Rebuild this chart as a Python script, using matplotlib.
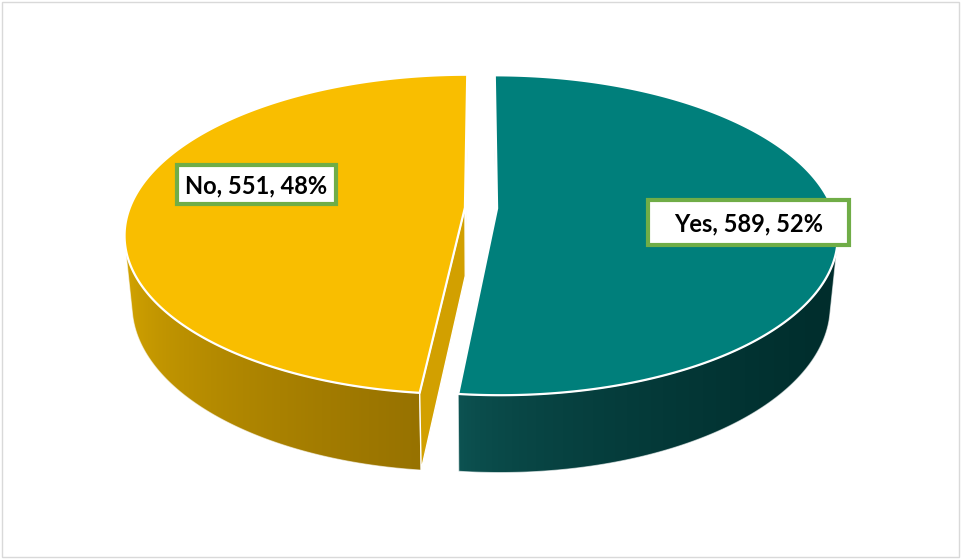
import numpy as np
import matplotlib.pyplot as plt
from matplotlib.patches import Polygon, Rectangle
from matplotlib.colors import to_rgb

# survey answers
labels = ["Yes", "No"]
counts = [589, 551]

top_colors = ["#007F7B", "#F9BE00"]
wall_colors = [("#0D5453", "#002D2C"), ("#D8A800", "#977200")]
cut_colors = ["#00625E", "#D2A000"]

W, H = 961, 559
fig = plt.figure(figsize=(W / 100, H / 100), dpi=100)
ax = fig.add_axes([0, 0, 1, 1])
ax.set_xlim(0, W)
ax.set_ylim(H, 0)
ax.axis("off")

# simple perspective camera looking down on a unit disk
PHI = np.radians(27.6)
DIST = 5.28
SCALE = 1770
CX, CY = 481, 208
THICK = 0.235
EXPLODE = 0.048
cam = np.array([0.0, -DIST * np.cos(PHI), DIST * np.sin(PHI)])


def project(u, w, z):
    s, c = np.sin(PHI), np.cos(PHI)
    depth = DIST + w * c - z * s
    return CX + SCALE * u / depth, CY - SCALE * (w * s + z * c) / depth, depth


def gradient(c0, c1, n, gamma):
    a, b = np.array(to_rgb(c0)), np.array(to_rgb(c1))
    f = np.linspace(0, 1, n)[:, None] ** gamma
    return (a + (b - a) * f)[None, :, :]


total = sum(counts)
fracs = np.array(counts) / total
starts = np.concatenate([[0], np.cumsum(fracs)[:-1]]) * 2 * np.pi
ends = starts + fracs * 2 * np.pi

walls = []   # (xy outline, slice index)
cuts = []    # (depth, xy, slice index)
tops = []

for i in range(len(counts)):
    mid = (starts[i] + ends[i]) / 2
    ou, ow = EXPLODE * np.sin(mid), EXPLODE * np.cos(mid)
    t = np.linspace(starts[i], ends[i], 361)
    u = ou + np.sin(t)
    w = ow + np.cos(t)
    xt, yt, dt = project(u, w, 0)
    xb, yb, db = project(u, w, -THICK)

    # outer wall, only the part that faces the camera
    vis = np.sin(t) * (cam[0] - u) + np.cos(t) * (cam[1] - w) > 0
    k = np.where(vis)[0]
    if len(k):
        walls.append((np.column_stack([np.concatenate([xt[k], xb[k][::-1]]),
                                       np.concatenate([yt[k], yb[k][::-1]])]), i))

    # radial cut faces
    ax_t, ay_t, ad_t = project(ou, ow, 0)
    ax_b, ay_b, ad_b = project(ou, ow, -THICK)
    for a, sign in ((starts[i], -1), (ends[i], 1)):
        n = np.array([np.sin(a + sign * np.pi / 2), np.cos(a + sign * np.pi / 2)])
        if n @ (cam[:2] - np.array([ou, ow])) <= 0:
            continue
        eu, ew = ou + np.sin(a), ow + np.cos(a)
        ex_t, ey_t, ed_t = project(eu, ew, 0)
        ex_b, ey_b, ed_b = project(eu, ew, -THICK)
        xy = [(ax_t, ay_t), (ex_t, ey_t), (ex_b, ey_b), (ax_b, ay_b)]
        cuts.append(((ad_t + ed_t) / 2, xy, i))

    tops.append(np.column_stack([np.concatenate([[ax_t], xt]),
                                 np.concatenate([[ay_t], yt])]))

# side walls: horizontal gradient clipped to the wall outline
for xy, i in walls:
    x0, x1 = xy[:, 0].min(), xy[:, 0].max()
    y0, y1 = xy[:, 1].min(), xy[:, 1].max()
    img = ax.imshow(gradient(*wall_colors[i], 256, 0.6 if i == 0 else 0.5),
                    extent=(x0, x1, y1, y0), aspect="auto",
                    interpolation="bilinear", zorder=1)
    clip = Polygon(xy, closed=True, transform=ax.transData)
    img.set_clip_path(clip)
    ax.add_patch(Polygon(xy, closed=True, fill=False, edgecolor="white",
                         linewidth=0.8, alpha=0.6, zorder=1.5))

for d, xy, i in sorted(cuts, key=lambda s: -s[0]):
    ax.add_patch(Polygon(xy, closed=True, facecolor=cut_colors[i],
                         edgecolor="white", linewidth=1.0, zorder=2))

for i, xy in enumerate(tops):
    ax.add_patch(Polygon(xy, closed=True, facecolor=top_colors[i],
                         edgecolor="white", linewidth=1.6, joinstyle="round",
                         zorder=3))

# data labels
label_boxes = [(648, 200, 201, 45), (177, 165, 159, 39)]
for i, (bx, by, bw, bh) in enumerate(label_boxes):
    pct = round(100 * counts[i] / total)
    ax.add_patch(Rectangle((bx, by), bw, bh, facecolor="white",
                           edgecolor="#70AD47", linewidth=3, zorder=4))
    ax.text(bx + bw / 2, by + bh / 2 + 1, f"{labels[i]}, {counts[i]}, {pct}%",
            ha="center", va="center", fontsize=17, fontweight="bold",
            family="Lato", color="black", zorder=5)

# chart area border
ax.add_patch(Rectangle((1.5, 1.5), W - 4, H - 4, fill=False,
                       edgecolor="#D9D9D9", linewidth=1, zorder=6))

fig.savefig("out.png", dpi=100)
